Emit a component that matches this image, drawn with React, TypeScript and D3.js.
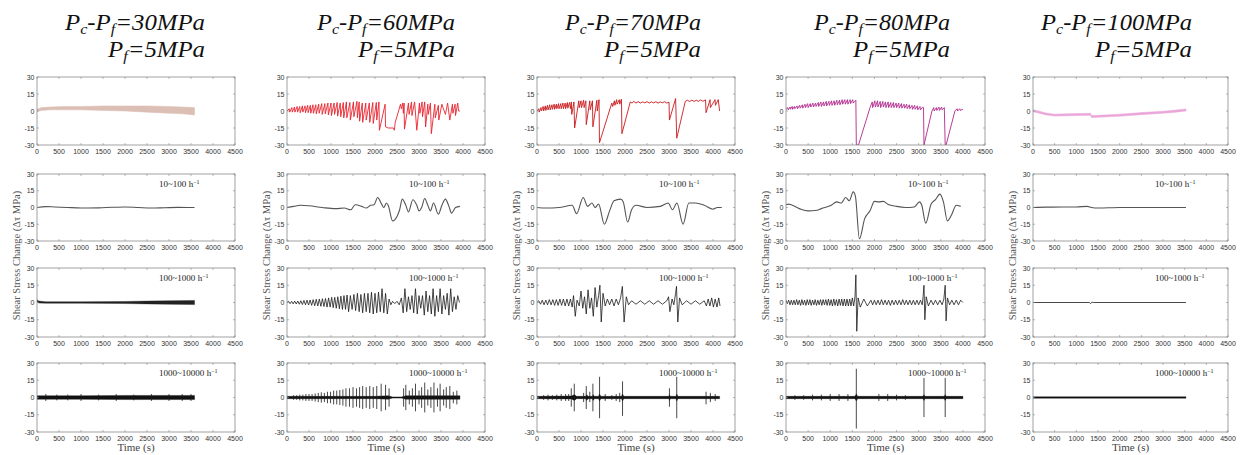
import React from "react";
import * as d3 from "d3";

type P = [number, number];
type E = [number, number, number];

const xTicks = [0, 500, 1000, 1500, 2000, 2500, 3000, 3500, 4000, 4500];
const yTicks = [30, 15, 0, -15, -30];
const diffs = ["30", "60", "70", "80", "100"];
const bandNames = ["10~100", "100~1000", "1000~10000"];

// ---- row 1 : raw shear stress change ----
const raw30: E[] = [[0, -0.5, 1.5], [100, 0.5, 3], [300, 1, 3.5], [600, 1, 4], [1000, 1, 4], [1500, 0.5, 4.5], [2000, 0, 4.5], [2500, -1, 4.5], [3000, -2, 4], [3300, -2.5, 3.5], [3580, -3.5, 3]];
const raw60: P[] = [
  [0, 0], [50, 2], [60, -1], [110, 3], [120, -1], [170, 3.5], [180, -1], [230, 4], [240, -1], [290, 4], [300, -1.5], [350, 4.5], [360, -1], [410, 4.5], [420, -1.5], [470, 5], [480, -1.5], [530, 5], [540, -2], [590, 5.5], [600, -2], [655, 5.5], [665, -2.5], [720, 6], [730, -2], [790, 6.5], [800, -3], [860, 6.5], [870, -2.5], [930, 7], [940, -3.5], [1000, 7], [1010, -4], [1070, 7], [1080, -3], [1140, 7.5], [1150, -4.5], [1210, 7], [1220, -5], [1280, 7.5], [1290, -6], [1350, 8], [1360, -6], [1430, 7.5], [1440, -8], [1510, 8], [1520, -5], [1590, 8.5], [1600, -6], [1640, 8], [1650, -9], [1710, 7], [1720, -10], [1790, 7], [1800, -8], [1870, 7], [1880, -10], [1950, 7.5], [1960, -11], [2030, 7.5], [2040, -8], [2090, 8], [2100, -17], [2230, 6], [2240, -14], [2300, -15], [2420, -15], [2440, -17], [2460, -10], [2580, 6], [2600, 2], [2630, 7], [2645, -2], [2660, 7], [2670, -16], [2760, 7], [2775, -3], [2830, 8], [2840, -4], [2900, 8], [2950, -17], [3010, 7], [3020, -2], [3070, 8], [3080, -5], [3130, 8], [3150, -14], [3200, 6], [3210, -3], [3260, 7], [3280, -20], [3360, 6], [3370, -6], [3440, 5], [3450, -8], [3520, 6], [3600, -3], [3650, 7], [3700, -8], [3760, 6], [3770, -2], [3820, 6], [3830, -4], [3880, 7], [3900, 0], [3930, 0]
];
const raw70: P[] = [
  [0, 0], [40, 2], [50, -1], [90, 3], [100, 0], [140, 4], [150, 0], [190, 4.5], [200, 0.5], [240, 5], [250, 1], [290, 5.5], [300, 1], [340, 5.5], [350, 1.5], [390, 6], [400, 1.5], [440, 6], [450, 2], [490, 6.5], [500, 2], [540, 6.5], [550, 2], [590, 7], [600, 2], [640, 7], [650, 2], [690, 7.5], [700, 2.5], [740, 7.5], [760, 2], [780, 8], [790, -3], [840, 8], [855, -15], [950, 9], [960, 3], [1000, 9], [1010, 3], [1060, 9.5], [1070, 3], [1110, 9], [1120, -12], [1200, 9], [1210, 1], [1260, 9], [1270, -14], [1360, 9.5], [1370, 0], [1410, 10], [1420, -28], [1700, 7], [1720, 4], [1760, 9], [1770, 5], [1810, 10], [1820, 6], [1870, 10], [1880, 6], [1920, 10.5], [1930, -20], [2120, 8], [2160, 7], [2200, 8.5], [2250, 7], [2300, 8.2], [2350, 7], [2400, 8], [2450, 7.2], [2500, 8.3], [2550, 7], [2600, 8], [2650, 7.2], [2700, 8.2], [2750, 7], [2800, 8], [2850, 7.2], [2900, 8.2], [2950, 7], [3000, 7.8], [3010, -8], [3150, 11], [3176, -24], [3370, 8.5], [3420, 9.5], [3470, 8.3], [3520, 9.6], [3570, 8.4], [3620, 9.5], [3670, 8.5], [3720, 9.8], [3770, 8.6], [3830, 9.8], [3842, -1.5], [3933, 10], [3940, 3], [4046, 10], [4055, 5], [4120, 10], [4150, 0]
];
const raw80: P[] = [
  [0, 1.5], [40, 3], [50, 1], [90, 3.5], [100, 1.5], [140, 4], [150, 1.5], [190, 4], [200, 2], [250, 4.5], [260, 2], [310, 5], [320, 2.5], [370, 5.5], [380, 2.5], [430, 6], [440, 3], [490, 6.5], [500, 3], [550, 6.5], [560, 3.5], [610, 7], [620, 3.5], [670, 7], [680, 4], [730, 7.5], [740, 4], [790, 8], [800, 4], [850, 8], [860, 4.5], [910, 8.5], [920, 4.5], [970, 8.5], [980, 5], [1030, 9], [1040, 5], [1090, 9], [1100, 5], [1150, 9.5], [1160, 5.5], [1210, 9.5], [1220, 5.5], [1270, 10], [1280, 6], [1330, 10], [1340, 6], [1390, 10], [1400, 6], [1450, 10], [1460, 6.5], [1510, 10], [1520, 7], [1580, 9.5], [1590, -30], [1640, -30], [1900, 3], [1950, 8], [1960, 3], [2010, 9], [2020, 3.5], [2070, 9], [2080, 3.5], [2130, 8.5], [2140, 3], [2190, 8.5], [2200, 3.5], [2250, 8], [2260, 3], [2310, 8], [2320, 3], [2370, 7.5], [2380, 3], [2430, 7.5], [2440, 3], [2490, 7], [2500, 3], [2550, 7], [2560, 2.5], [2610, 6.5], [2620, 2.5], [2670, 6], [2680, 2.5], [2730, 6], [2740, 2], [2790, 5.5], [2800, 2], [2850, 5], [2860, 1.5], [2910, 5], [2920, 1.5], [2970, 4.5], [2980, 1], [3030, 4], [3040, 1], [3090, 3.5], [3110, 3], [3120, -30], [3300, 0], [3340, 3], [3350, 0], [3400, 3], [3410, 0.5], [3460, 3.5], [3470, 0.5], [3520, 3.5], [3530, 1], [3580, 3], [3600, -30], [3620, -30], [3820, 0], [3870, 2], [3880, 0], [3930, 2], [3940, 0.5], [4000, 1.5]
];
const raw100: E[] = [[0, -0.6, 1], [100, -1.5, 0.3], [300, -3.5, -1.8], [500, -4.5, -2.8], [800, -4.2, -2.4], [1100, -4, -2.2], [1330, -3.8, -2], [1345, -5.8, -4], [1500, -5.6, -3.8], [2000, -4.6, -2.8], [2500, -3.2, -1.4], [3000, -2, -0.2], [3300, -1, 0.8], [3530, 0, 1.8]];

// ---- row 2 : 10~100 h^-1 ----
const low30: P[] = [[0, 0], [200, 0.8], [400, 0.5], [700, 0], [1000, -0.4], [1400, -0.3], [1700, 0.2], [2000, 0.5], [2300, 0], [2600, -0.5], [2900, -0.2], [3200, 0.1], [3580, 0]];
const low60: P[] = [[0, 0], [150, 1], [300, 2], [500, 1.5], [800, 0], [1100, -1], [1300, -0.5], [1450, -2], [1550, 2.5], [1700, 1], [1800, -0.5], [1900, 2], [1980, 2.5], [2060, 9], [2150, 3], [2200, 0], [2260, 4], [2300, 2], [2400, -12], [2500, -8], [2560, -2], [2620, 7.5], [2700, 2], [2760, -4], [2860, 7], [2950, 2], [3000, -3], [3060, 0], [3130, 8], [3200, 2], [3260, -3], [3330, 4], [3440, -6], [3520, 2], [3600, 7.5], [3680, 1], [3740, -5], [3830, 0], [3930, 1]];
const low70: P[] = [[0, 0], [200, -0.5], [500, 0], [800, 2], [900, -5.5], [1050, 9], [1150, 1], [1250, 4], [1320, 0], [1400, 3], [1530, -15], [1650, -3], [1750, 6], [1900, 7.5], [1960, 5], [2060, -13], [2150, -2], [2250, 2], [2500, 0], [2800, 1], [2980, 4], [3080, -2], [3180, 4], [3320, -15], [3450, 4], [3600, 4], [3800, 2], [4000, -1.5], [4100, 0], [4200, 0]];
const low80: P[] = [[0, 2.5], [60, 3], [300, -1], [500, -3], [700, -2.5], [800, -1], [1000, 1.5], [1150, 5], [1250, 4], [1350, 9], [1430, 6], [1520, 14], [1570, 10], [1660, -28], [1780, -10], [1900, -3], [2000, 5.5], [2100, 5], [2200, 5.5], [2300, 3], [2500, 1], [2700, 0], [2900, 0.5], [3020, 5], [3070, 2], [3160, -14], [3280, 3], [3380, 7], [3480, 12], [3560, 5], [3650, -12], [3750, -6], [3850, 2], [3950, 1]];
const low100: P[] = [[0, 0], [300, 0.3], [700, 0.5], [1000, 0.5], [1250, 1], [1350, 0], [1500, -0.5], [2000, 0], [2500, 0], [3000, 0], [3530, 0]];

// ---- row 3 : 100~1000 h^-1 ----
const mid30: E[] = [[0, 0.5, 2.5], [40, -0.5, 1.2], [200, -0.6, 0.6], [1000, -0.6, 0.6], [2000, -0.9, 0.9], [2500, -1.2, 1.2], [3000, -1.5, 1.5], [3580, -1.8, 1.8]];
const mid60: P[] = [[0, 0], [35, 1], [70, -1], [105, 1], [140, -1.2], [175, 1.2], [210, -1.3], [245, 1.3], [280, -1.5], [315, 1.5], [350, -1.8], [385, 1.8], [420, -2], [455, 2], [490, -2.2], [525, 2.2], [560, -2.5], [595, 2.5], [630, -2.8], [665, 2.8], [700, -3], [735, 3], [770, -3.3], [805, 3.3], [840, -3.5], [875, 3.5], [910, -4], [945, 4], [980, -4], [1015, 4.5], [1050, -4.5], [1085, 4.5], [1120, -5], [1155, 5], [1190, -5.5], [1225, 5.5], [1260, -6], [1295, 6], [1330, -6], [1365, 6.5], [1400, -8], [1440, 6], [1480, -6], [1520, 7], [1560, -7], [1600, 8], [1640, -8], [1680, 7], [1720, -9], [1760, 8], [1800, -8], [1840, 8], [1880, -9], [1920, 9], [1960, -10], [2000, 8], [2040, -9], [2080, 9], [2120, -8], [2160, 12], [2200, -9], [2240, 8], [2280, -10], [2320, 3], [2360, -2], [2400, 1], [2450, -1], [2500, 1], [2550, -2], [2600, 4], [2640, -9], [2680, 12], [2720, -8], [2760, 5], [2800, -6], [2840, 6], [2880, -9], [2920, 12], [2960, -10], [3000, 6], [3040, -5], [3080, 6], [3120, -11], [3160, 10], [3200, -8], [3240, 6], [3280, -10], [3320, 12], [3360, -12], [3400, 6], [3440, -8], [3480, 12], [3520, -10], [3560, 6], [3600, -6], [3640, 8], [3680, -11], [3720, 12], [3760, -8], [3800, 5], [3840, -6], [3880, 6], [3920, 0]];
const mid70: P[] = [[0, 0], [40, 1.5], [80, -1.5], [120, 2], [160, -2], [200, 2], [240, -2], [280, 2.5], [320, -2], [360, 2.5], [400, -2.5], [440, 2.5], [480, -2.5], [520, 3], [560, -2.5], [600, 3], [640, -3], [680, 3], [720, -3], [760, 3], [800, -4], [830, 6], [870, -12], [910, 2], [960, -3], [1000, 10], [1040, -5], [1080, 5], [1120, -10], [1160, 11], [1200, -5], [1240, 4], [1280, -12], [1320, 13], [1360, -4], [1400, 6], [1430, 15], [1460, -17], [1500, 8], [1550, -3], [1600, 3], [1650, -2], [1700, 3], [1750, -3], [1800, 3], [1850, -2], [1900, 4], [1940, 14], [1980, -17], [2030, 5], [2080, -2], [2150, 1.5], [2250, -1.5], [2350, 1.5], [2450, -1.5], [2550, 1.5], [2650, -1.5], [2750, 1.5], [2850, -1.5], [2950, 1.5], [2990, 5], [3020, -8], [3070, 3], [3110, -2], [3150, 8], [3170, 14], [3200, -17], [3240, 4], [3300, -2], [3400, 1.5], [3500, -1.5], [3600, 1.5], [3700, -1.5], [3800, 1.5], [3850, -3], [3890, 3], [3930, -3], [3970, 4], [4010, -4], [4050, 3], [4090, -4], [4130, 4], [4160, -3]];
const mid80: P[] = [[0, 2], [30, -1], [60, 2], [90, -2], [120, 2], [150, -2], [180, 2], [210, -2], [240, 2.5], [270, -2], [300, 2], [330, -2.5], [360, 2.5], [390, -2], [420, 2], [450, -2.5], [480, 2.5], [510, -2], [540, 2.5], [570, -2.5], [600, 2], [630, -2], [660, 2.5], [690, -2.5], [720, 2], [750, -2], [780, 2.5], [810, -2.5], [840, 2.5], [870, -2], [900, 2.5], [930, -2.5], [960, 3], [990, -2.5], [1020, 2.5], [1050, -3], [1080, 3], [1110, -2.5], [1140, 2.5], [1170, -3], [1200, 3], [1230, -2.5], [1260, 3], [1290, -3], [1320, 3], [1350, -3], [1380, 3], [1410, -3], [1440, 3], [1470, -3], [1500, 4], [1530, -3], [1560, 5], [1580, 24], [1600, -25], [1630, 4], [1680, -4], [1760, 3], [1840, -3], [1920, 2], [1960, -2], [2000, 2], [2040, -2], [2080, 2], [2120, -2], [2160, 2.5], [2200, -2], [2240, 2], [2280, -2], [2320, 2], [2360, -2.5], [2400, 2], [2440, -2], [2480, 2], [2520, -2], [2560, 2], [2600, -2], [2640, 2.5], [2680, -2], [2720, 2], [2760, -2], [2800, 2], [2840, -2], [2880, 2], [2920, -2], [2960, 2], [3000, -2], [3040, 2], [3080, -2], [3100, 5], [3120, 15], [3140, -15], [3170, 5], [3220, -3], [3280, 2], [3330, -2], [3380, 2], [3430, -2], [3480, 2], [3530, -2], [3570, 3], [3600, 15], [3620, -16], [3650, 4], [3700, -2], [3750, 2], [3800, -2], [3850, 2], [3900, -2], [3950, 2], [4000, 0]];
const mid100: P[] = [[0, 0], [1300, 0], [1330, -1], [1360, 0.3], [1400, 0], [3530, 0]];

// ---- row 4 : 1000~10000 h^-1 ----
const hiBase30: E[] = [[0, -1.5, 1.5], [1000, -1.5, 1.5], [2000, -1.8, 1.8], [3580, -1.8, 1.8]];
const hiSpk30: E[] = [[200, 3, -3], [450, 2.5, -2.5], [700, 2.5, -2.5], [1000, 3, -3], [1400, 2.5, -2.5], [1800, 3, -3], [2200, 2.5, -2.5], [2600, 3, -3], [3000, 3, -3], [3300, 3, -3], [3500, 3, -3]];
const hiBase60: E[] = [[0, -1, 1], [2000, -1, 1], [2300, -1.5, 1.5], [2400, -0.5, 0.5], [2600, -0.5, 0.5], [2700, -1.5, 1.5], [3930, -1.5, 1.5]];
const hiSpk60: E[] = [[150, 2, -2], [220, 2, -2], [290, 2.5, -2.5], [360, 2.5, -2.5], [430, 3, -3], [500, 3, -3], [570, 3, -3], [640, 3.5, -3.5], [710, 4, -4], [780, 4.5, -4.5], [850, 4, -4], [920, 5, -5], [990, 5, -5], [1060, 6, -6], [1130, 6, -6], [1200, 6.5, -6.5], [1270, 7, -7], [1340, 8, -8], [1420, 8, -8], [1500, 9, -9], [1580, 8, -8], [1650, 9, -9], [1720, 10, -10], [1800, 9, -9], [1880, 10, -10], [1960, 9, -9], [2040, 10, -10], [2140, 12, -12], [2240, 11, -11], [2320, 8, -8], [2650, 8, -8], [2700, 11, -11], [2780, 6, -6], [2850, 8, -8], [2920, 12, -12], [3000, 6, -6], [3060, 9, -9], [3130, 13, -13], [3200, 7, -7], [3270, 9, -9], [3340, 13, -13], [3420, 8, -8], [3480, 12, -12], [3560, 7, -7], [3620, 9, -9], [3700, 10, -10], [3780, 5, -5], [3860, 6, -6]];
const hiBase70: E[] = [[0, -1, 1], [780, -1.2, 1.2], [850, -2.5, 2.5], [900, -1, 1], [1110, -1, 1], [1130, -2.5, 2.5], [1160, -1, 1], [1260, -1, 1], [1280, -2.5, 2.5], [1300, -1, 1], [1400, -1, 1], [1420, -3, 3], [1450, -1, 1], [1920, -1, 1], [1944, -3, 3], [1970, -1, 1], [3000, -1, 1], [3010, -2.5, 2.5], [3030, -1, 1], [3160, -1, 1], [3176, -3, 3], [3200, -1, 1], [4150, -1, 1]];
const hiSpk70: E[] = [[150, 2, -2], [250, 2.5, -2.5], [350, 2, -2], [450, 2.5, -2.5], [550, 3, -3], [650, 3, -3], [720, 3, -3], [779, 8, -8], [847, 12, -12], [1060, 4, -4], [1119, 10, -10], [1200, 5, -4], [1270, 12, -12], [1422, 18, -18], [1550, 3, -3], [1700, 2, -2], [1800, 3, -3], [1880, 4, -4], [1944, 14, -16], [3010, 8, -8], [3176, 18, -18], [3842, 5, -6], [3940, 4, -4], [4050, 3, -3]];
const hiBase80: E[] = [[0, -1, 1], [1560, -1, 1], [1590, -3, 3], [1620, -1, 1], [3100, -1, 1], [3120, -2.5, 2.5], [3140, -1, 1], [3580, -1, 1], [3600, -2.5, 2.5], [3620, -1, 1], [4000, -1, 1]];
const hiSpk80: E[] = [[200, 2, -2], [400, 2, -2], [600, 2.5, -2.5], [800, 2.5, -2.5], [1000, 3, -3], [1200, 3, -3], [1400, 3, -3], [1590, 25, -27], [2100, 3, -3], [2300, 3, -3], [2500, 2.5, -2.5], [2700, 2, -2], [3120, 17, -17], [3600, 17, -17]];
const hiBase100: E[] = [[0, -0.6, 0.6], [3530, -0.6, 0.6]];

const rawSeries = [
  { band: raw30, color: "#dcbfb4" },
  { line: raw60, color: "#e8242f" },
  { line: raw70, color: "#c8191c" },
  { line: raw80, color: "#b0288c" },
  { band: raw100, color: "#eaa6d9" },
];
const lowSeries = [low30, low60, low70, low80, low100];
const midSeries: any[] = [{ band: mid30 }, { line: mid60 }, { line: mid70 }, { line: mid80 }, { line: mid100 }];
const hiSeries = [
  { base: hiBase30, spikes: hiSpk30 },
  { base: hiBase60, spikes: hiSpk60 },
  { base: hiBase70, spikes: hiSpk70 },
  { base: hiBase80, spikes: hiSpk80 },
  { base: hiBase100, spikes: [] as E[] },
];

const COL_X = [37, 287, 537, 786, 1033];
const COL_W = [198, 198, 198, 199, 195];
const ROWS = [[77, 145], [174, 241], [268, 337], [363, 432]];
const TITLE_R = [205, 455, 701, 950, 1192];
const TITLE_W = [140, 138, 136, 136, 151];
const serif = "'Liberation Serif', 'Times New Roman', Times, serif";
const sans = "'Liberation Sans', Arial, sans-serif";

function Panel({ col, row, children }: { col: number; row: number; children: (x: any, y: any) => React.ReactNode }) {
  const x0 = COL_X[col];
  const w = COL_W[col];
  const [top, bottom] = ROWS[row];
  const x = d3.scaleLinear().domain([0, 4500]).range([x0, x0 + w]);
  const y = d3.scaleLinear().domain([-30, 30]).range([bottom, top]);
  const id = `clip-${row}-${col}`;
  return (
    <g>
      <defs>
        <clipPath id={id}>
          <rect x={x0} y={top} width={w} height={bottom - top} />
        </clipPath>
      </defs>
      <g clipPath={`url(#${id})`}>{children(x, y)}</g>
      <rect x={x0} y={top} width={w} height={bottom - top} fill="none" stroke="#8a8a8a" strokeWidth={0.8} />
      {xTicks.map((t) => (
        <g key={"x" + t}>
          <line x1={x(t)} x2={x(t)} y1={bottom} y2={bottom - 2} stroke="#8a8a8a" strokeWidth={0.6} />
          <line x1={x(t)} x2={x(t)} y1={top} y2={top + 2} stroke="#8a8a8a" strokeWidth={0.6} />
          <text x={x(t)} y={bottom + 8.5} fontSize={7} textAnchor="middle" fill="#333" fontFamily={sans}>{t}</text>
        </g>
      ))}
      {yTicks.map((v) => (
        <g key={"y" + v}>
          <line x1={x0} x2={x0 + 2} y1={y(v)} y2={y(v)} stroke="#8a8a8a" strokeWidth={0.6} />
          <line x1={x0 + w} x2={x0 + w - 2} y1={y(v)} y2={y(v)} stroke="#8a8a8a" strokeWidth={0.6} />
          <text x={x0 - 2.5} y={y(v) + 2.5} fontSize={7} textAnchor="end" fill="#333" fontFamily={sans}>{v}</text>
        </g>
      ))}
      {row > 0 && (
        <text x={x0 + 122} y={top + 13} fontSize={9} fill="#222" fontFamily={serif}>
          {bandNames[row - 1]} h<tspan dy={-3.5} fontSize={6}>−1</tspan>
        </text>
      )}
    </g>
  );
}

function linePath(x: any, y: any, data: P[], curve: any = d3.curveLinear) {
  return d3.line<P>().x((d) => x(d[0])).y((d) => y(d[1])).curve(curve)(data) || "";
}
function bandPath(x: any, y: any, data: E[]) {
  return d3.area<E>().x((d) => x(d[0])).y0((d) => y(d[1])).y1((d) => y(d[2]))(data) || "";
}

function Title({ x, y, w, children }: { x: number; y: number; w: number; children: React.ReactNode }) {
  return (
    <text x={x - w} y={y} textLength={w} lengthAdjust="spacingAndGlyphs" fontFamily={serif} fontStyle="italic" fontSize={23} fill="#111">
      {children}
    </text>
  );
}

export default function App() {
  return (
    <svg width={1241} height={455} style={{ position: "absolute", left: 0, top: 0, background: "#fff" }}>
      <rect width={1241} height={455} fill="#fff" />
      {diffs.map((d, c) => (
        <g key={"t" + c}>
          <Title x={TITLE_R[c]} y={30} w={TITLE_W[c]}>
            P<tspan dy={4} fontSize={15}>c</tspan><tspan dy={-4}>-P</tspan><tspan dy={4} fontSize={15}>f</tspan><tspan dy={-4}>={d}MPa</tspan>
          </Title>
          <Title x={TITLE_R[c]} y={57} w={97}>
            P<tspan dy={4} fontSize={15}>f</tspan><tspan dy={-4}>=5MPa</tspan>
          </Title>
        </g>
      ))}
      {diffs.map((d, c) => (
        <g key={"col" + c}>
          <Panel col={c} row={0}>
            {(x, y) => {
              const s: any = rawSeries[c];
              return s.band ? (
                <path d={bandPath(x, y, s.band)} fill={s.color} stroke={s.color} strokeWidth={0.5} />
              ) : (
                <path d={linePath(x, y, s.line)} fill="none" stroke={s.color} strokeWidth={0.9} />
              );
            }}
          </Panel>
          <Panel col={c} row={1}>
            {(x, y) => <path d={linePath(x, y, lowSeries[c], d3.curveMonotoneX)} fill="none" stroke="#555" strokeWidth={1.1} />}
          </Panel>
          <Panel col={c} row={2}>
            {(x, y) => {
              const s = midSeries[c];
              return s.band ? (
                <path d={bandPath(x, y, s.band)} fill="#222" stroke="#222" strokeWidth={0.4} />
              ) : (
                <path d={linePath(x, y, s.line)} fill="none" stroke="#1a1a1a" strokeWidth={0.8} />
              );
            }}
          </Panel>
          <Panel col={c} row={3}>
            {(x, y) => (
              <g>
                <path d={bandPath(x, y, hiSeries[c].base)} fill="#111" stroke="#111" strokeWidth={0.4} />
                {hiSeries[c].spikes.map((s, i) => (
                  <line key={i} x1={x(s[0])} x2={x(s[0])} y1={y(s[1])} y2={y(s[2])} stroke="#1a1a1a" strokeWidth={0.8} />
                ))}
              </g>
            )}
          </Panel>
          <text
            transform={`translate(${COL_X[c] - 17},${(ROWS[1][0] + ROWS[2][1]) / 2}) rotate(-90)`}
            textAnchor="middle"
            fontSize={10.5}
            fill="#555"
            fontFamily={serif}
          >
            Shear Stress Change (Δτ MPa)
          </text>
          <text x={COL_X[c] + COL_W[c] / 2} y={451} textAnchor="middle" fontSize={11} fill="#444" fontFamily={serif}>
            Time (s)
          </text>
        </g>
      ))}
    </svg>
  );
}
